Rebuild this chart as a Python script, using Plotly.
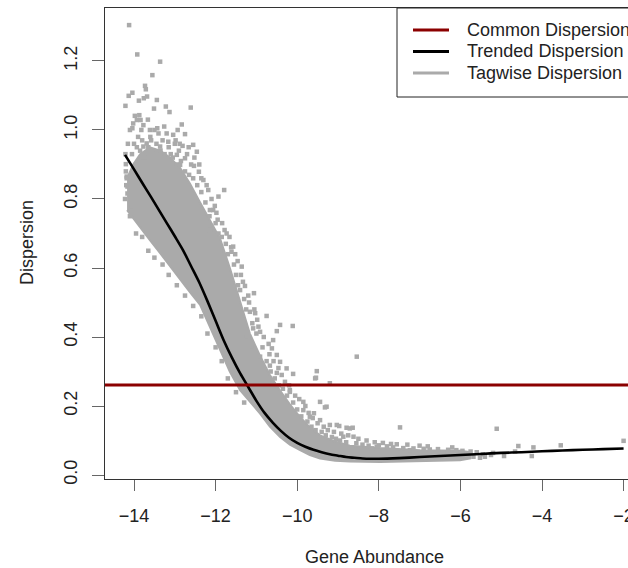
import plotly.graph_objects as go

# ---- data -------------------------------------------------------------
# Trended dispersion (fitted curve) vs gene abundance
trend_x = [-14.22, -14.0, -13.8, -13.6, -13.4, -13.2, -13.0, -12.8, -12.6, -12.4,
           -12.2, -12.0, -11.8, -11.6, -11.4, -11.2, -11.0, -10.8, -10.6, -10.4,
           -10.2, -10.0, -9.8, -9.6, -9.4, -9.2, -9.0, -8.8, -8.6, -8.4, -8.2,
           -8.0, -7.5, -7.0, -6.5, -6.0, -5.5, -5.0, -4.5, -4.0, -3.5, -3.0,
           -2.5, -2.0]
trend_y = [0.928, 0.886, 0.847, 0.809, 0.770, 0.731, 0.692, 0.652, 0.605, 0.558,
           0.504, 0.447, 0.390, 0.340, 0.295, 0.255, 0.215, 0.180, 0.152, 0.128,
           0.108, 0.093, 0.082, 0.073, 0.066, 0.060, 0.056, 0.052, 0.050, 0.048,
           0.047, 0.047, 0.049, 0.052, 0.055, 0.058, 0.061, 0.064, 0.066, 0.069,
           0.071, 0.073, 0.075, 0.077]

# Common dispersion
common_disp = 0.261

# Dense core of the tagwise dispersions: lower / upper envelope
core_x = [-14.17, -14.02, -13.85, -13.61, -13.36, -13.12, -12.87, -12.63, -12.38,
          -12.14, -11.89, -11.65, -11.40, -11.16, -10.91, -10.67, -10.42, -10.18,
          -9.93, -9.69, -9.44, -9.07, -8.71, -7.97, -6.99, -6.01, -5.76]
core_upper = [0.860, 0.900, 0.930, 0.950, 0.940, 0.920, 0.890, 0.845, 0.790,
              0.740, 0.685, 0.600, 0.500, 0.410, 0.345, 0.290, 0.245, 0.205,
              0.168, 0.138, 0.115, 0.097, 0.085, 0.078, 0.072, 0.070, 0.066]
core_lower = [0.768, 0.745, 0.719, 0.681, 0.643, 0.606, 0.568, 0.530, 0.493,
              0.429, 0.362, 0.299, 0.246, 0.212, 0.178, 0.140, 0.110, 0.088,
              0.072, 0.058, 0.048, 0.041, 0.039, 0.038, 0.040, 0.043, 0.048]

# Individual tagwise dispersions outside the dense core
tag_x = [-14.12, -13.92, -13.36, -13.55, -13.73, -13.71, -14.04, -14.13, -13.68, -13.88,
         -13.44, -13.76, -14.21, -13.51, -13.22, -13.13, -12.61, -13.98, -13.87, -13.93,
         -13.84, -14.04, -13.77, -13.61, -13.43, -13.26, -12.83, -12.93, -13.04, -12.75,
         -13.69, -13.77, -13.93, -13.36, -13.16, -12.81, -12.55, -12.46, -14.20, -14.18,
         -14.16, -14.16, -14.06, -12.53, -12.41, -12.30, -12.18, -11.79, -11.93, -12.87,
         -12.75, -12.95, -14.02,
         -12.06, -12.14, -11.73, -11.89, -11.57, -14.18,
         -12.14, -11.93, -11.61, -11.36, -11.28, -11.06, -11.40, -11.16, -11.03, -10.75,
         -10.42, -10.11, -10.50, -11.08, -10.91, -11.24, -10.59, -11.12, -10.62, -10.50,
         -10.91, -10.42, -10.67, -10.26, -10.10, -9.52, -9.56, -9.20, -8.54, -10.18,
         -10.50,
         -9.54, -9.85, -9.44, -9.28, -9.85, -9.69, -9.44, -9.20, -9.03, -8.71,
         -8.87, -8.62, -10.18,
         -9.59, -9.32, -7.48, -5.11, -8.97, -8.79, -8.64, -7.56, -2.00, -4.58,
         -4.21, -3.54, -4.25, -4.93, -4.66, -5.40, -5.52, -5.68, -5.80, -6.03,
         -6.42, -6.66, -8.05, -8.17, -7.24,
         -14.05, -13.95, -13.85, -13.75, -13.65, -13.55, -13.45, -13.35, -13.25, -13.15,
         -13.05, -12.95, -12.85, -12.75, -12.65, -12.55, -13.90, -13.60, -13.30, -13.00,
         -12.70, -13.80, -13.50, -12.90, -12.60, -12.45, -12.35, -12.25, -12.15, -12.00,
         -11.95, -11.85, -11.75, -11.70, -11.55, -11.50, -11.45, -11.30, -11.25, -11.10,
         -11.00, -10.85, -10.75, -10.65, -10.55, -10.45, -10.35, -10.25, -10.10, -10.00,
         -9.90, -9.75, -9.65, -9.55, -9.40, -9.30, -9.15, -9.05, -8.95, -8.80,
         -8.55, -8.40, -8.25, -8.00, -7.80, -7.65, -7.40, -7.15, -6.90, -6.75,
         -6.55, -6.30, -6.10, -5.95, -5.75, -5.60, -5.45, -5.25, -5.20, -14.20,
         -14.00, -13.82, -13.66, -13.58, -13.40, -13.20, -13.10, -12.98, -12.88, -12.66,
         -12.52, -12.40, -12.35, -12.22, -12.10, -12.02, -11.98, -11.84, -11.78, -11.66,
         -11.62, -11.52, -11.46, -11.38, -11.33, -11.20, -11.18, -11.05, -10.98, -10.95,
         -10.82, -10.70, -10.68, -10.58, -10.46, -10.38, -10.30, -10.20, -10.05, -9.95,
         -9.80, -9.72, -9.62, -9.50, -9.35, -9.25, -9.10, -8.92, -8.75, -8.50,
         -8.30, -8.10, -7.90, -7.70, -7.30, -7.00, -6.80, -6.20,
         -14.22, -14.19, -14.21, -14.15, -14.10,
         -14.10, -13.95, -13.80, -13.65, -13.50, -13.30, -13.15, -12.95, -12.75, -12.55,
         -12.35, -12.20, -12.00, -11.85, -11.70, -11.50, -11.30]
tag_y = [1.304, 1.219, 1.198, 1.159, 1.128, 1.118, 1.108, 1.099, 1.097, 1.085,
         1.087, 1.092, 1.070, 1.062, 1.068, 1.052, 1.065, 1.041, 1.043, 1.029,
         1.029, 1.005, 1.014, 1.000, 1.005, 1.010, 1.016, 1.000, 0.986, 0.988,
         0.961, 0.952, 0.950, 0.952, 0.966, 0.954, 0.957, 0.937, 0.901, 0.865,
         0.836, 0.816, 0.778, 0.896, 0.879, 0.855, 0.826, 0.826, 0.807, 0.899,
         0.918, 0.928, 1.019,
         0.768, 0.710, 0.700, 0.652, 0.662, 0.860,
         0.768, 0.700, 0.647, 0.604, 0.548, 0.527, 0.536, 0.473, 0.469, 0.461,
         0.435, 0.432, 0.417, 0.425, 0.415, 0.401, 0.391, 0.372, 0.367, 0.348,
         0.343, 0.328, 0.317, 0.309, 0.293, 0.301, 0.280, 0.266, 0.343, 0.246,
         0.296,
         0.282, 0.212, 0.212, 0.198, 0.188, 0.169, 0.159, 0.145, 0.145, 0.135,
         0.111, 0.111, 0.241,
         0.179, 0.196, 0.138, 0.134, 0.142, 0.137, 0.137, 0.089, 0.099, 0.084,
         0.080, 0.086, 0.055, 0.055, 0.068, 0.053, 0.050, 0.053, 0.063, 0.066,
         0.066, 0.061, 0.082, 0.077, 0.072,
         0.930, 0.900, 0.940, 0.920, 0.950, 0.930, 0.960, 0.940, 0.930, 0.950,
         0.920, 0.900, 0.910, 0.880, 0.870, 0.860, 0.980, 0.980, 0.970, 0.960,
         0.930, 0.970, 1.000, 0.940, 0.900, 0.840, 0.820, 0.790, 0.750, 0.730,
         0.740, 0.690, 0.670, 0.640, 0.610, 0.580, 0.550, 0.510, 0.480, 0.440,
         0.410, 0.370, 0.330, 0.300, 0.280, 0.260, 0.250, 0.230, 0.210, 0.190,
         0.170, 0.155, 0.140, 0.130, 0.125, 0.115, 0.110, 0.105, 0.100, 0.095,
         0.092, 0.088, 0.085, 0.086, 0.083, 0.080, 0.078, 0.077, 0.076, 0.074,
         0.075, 0.073, 0.072, 0.070, 0.068, 0.066, 0.060, 0.058, 0.064, 0.880,
         0.960, 1.000, 1.030, 0.970, 0.990, 0.990, 0.930, 0.970, 0.960, 0.950,
         0.920, 0.900, 0.860, 0.840, 0.800, 0.780, 0.760, 0.730, 0.710, 0.690,
         0.660, 0.640, 0.620, 0.580, 0.560, 0.520, 0.500, 0.480, 0.450, 0.430,
         0.400, 0.380, 0.350, 0.330, 0.310, 0.290, 0.270, 0.260, 0.230, 0.220,
         0.200, 0.180, 0.165, 0.150, 0.140, 0.130, 0.125, 0.120, 0.115, 0.105,
         0.100, 0.095, 0.093, 0.090, 0.088, 0.085, 0.083, 0.080,
         0.800, 0.840, 0.930, 0.960, 1.000,
         0.750, 0.700, 0.690, 0.650, 0.630, 0.610, 0.580, 0.550, 0.520, 0.490,
         0.460, 0.410, 0.370, 0.330, 0.280, 0.240, 0.210]

x_ticks = [-14, -12, -10, -8, -6, -4, -2]
y_ticks = [0.0, 0.2, 0.4, 0.6, 0.8, 1.0, 1.2]

legend_labels = ["Common Dispersion", "Trended Dispersion", "Tagwise Dispersion"]

# ---- styling ----------------------------------------------------------
GREY = "#AAAAAA"
RED = "#8B0000"
BLACK = "#000000"
FONT = "Liberation Sans, Arial, sans-serif"
legend_colors = [RED, BLACK, GREY]

fig = go.Figure()

# dense core of the cloud
fig.add_trace(go.Scatter(
    x=core_x + core_x[::-1], y=core_upper + core_lower[::-1],
    fill="toself", fillcolor=GREY, mode="lines",
    line=dict(color=GREY, width=2), hoverinfo="skip", showlegend=False))

# individual tagwise points
fig.add_trace(go.Scatter(
    x=tag_x, y=tag_y, mode="markers",
    marker=dict(symbol="square", size=4.5, color=GREY, line=dict(width=0)),
    showlegend=False))

# trended dispersion
fig.add_trace(go.Scatter(
    x=trend_x, y=trend_y, mode="lines",
    line=dict(color=BLACK, width=2.6, shape="spline", smoothing=0.8),
    showlegend=False))

# common dispersion
fig.add_hline(y=common_disp, line=dict(color=RED, width=3))

# ---- layout -----------------------------------------------------------
L, R, T, B = 105, 0, 8, 89
W, H = 628, 568
pw, ph = W - L - R, H - T - B

def px_x(p):
    return (p - L) / pw

def px_y(p):
    return (H - B - p) / ph

fig.update_layout(
    width=W, height=H,
    margin=dict(l=L, r=R, t=T, b=B, autoexpand=False),
    paper_bgcolor="white", plot_bgcolor="white",
    font=dict(family=FONT, size=18, color="#222222"),
    showlegend=False,
    xaxis=dict(range=[-14.711, -1.892], tickvals=x_ticks,
               ticks="outside", ticklen=11, tickwidth=1, tickcolor="#666666",
               showline=True, linecolor="#333333", linewidth=1, mirror=True,
               showgrid=False, zeroline=False, ticklabelstandoff=9,
               ticklabeloverflow="allow"),
    yaxis=dict(range=[-0.0116, 1.3536], tickvals=y_ticks, tickformat=".1f",
               tickangle=-90,
               ticks="outside", ticklen=12, tickwidth=1, tickcolor="#666666",
               showline=True, linecolor="#333333", linewidth=1,
               showgrid=False, zeroline=False, ticklabelstandoff=8),
)

# axis titles
fig.add_annotation(text="Gene Abundance", xref="paper", yref="paper",
                   x=px_x(374), y=px_y(557), showarrow=False,
                   xanchor="center", yanchor="middle", font=dict(size=18))
fig.add_annotation(text="Dispersion", xref="paper", yref="paper",
                   x=px_x(27), y=px_y(243), showarrow=False, textangle=-90,
                   xanchor="center", yanchor="middle", font=dict(size=18))

# legend box (top right)
fig.add_shape(type="rect", xref="paper", yref="paper",
              x0=px_x(397), x1=px_x(700), y0=px_y(97), y1=px_y(8),
              line=dict(color="#222222", width=1), fillcolor="white", layer="above")
row_y = [30, 51.5, 73]
for lab, col, ry in zip(legend_labels, legend_colors, row_y):
    fig.add_shape(type="line", xref="paper", yref="paper",
                  x0=px_x(413), x1=px_x(449), y0=px_y(ry), y1=px_y(ry),
                  line=dict(color=col, width=3), layer="above")
    fig.add_annotation(text=lab, xref="paper", yref="paper",
                       x=px_x(465), y=px_y(ry), showarrow=False,
                       xanchor="left", yanchor="middle", font=dict(size=18))

fig.write_html("out.html")
